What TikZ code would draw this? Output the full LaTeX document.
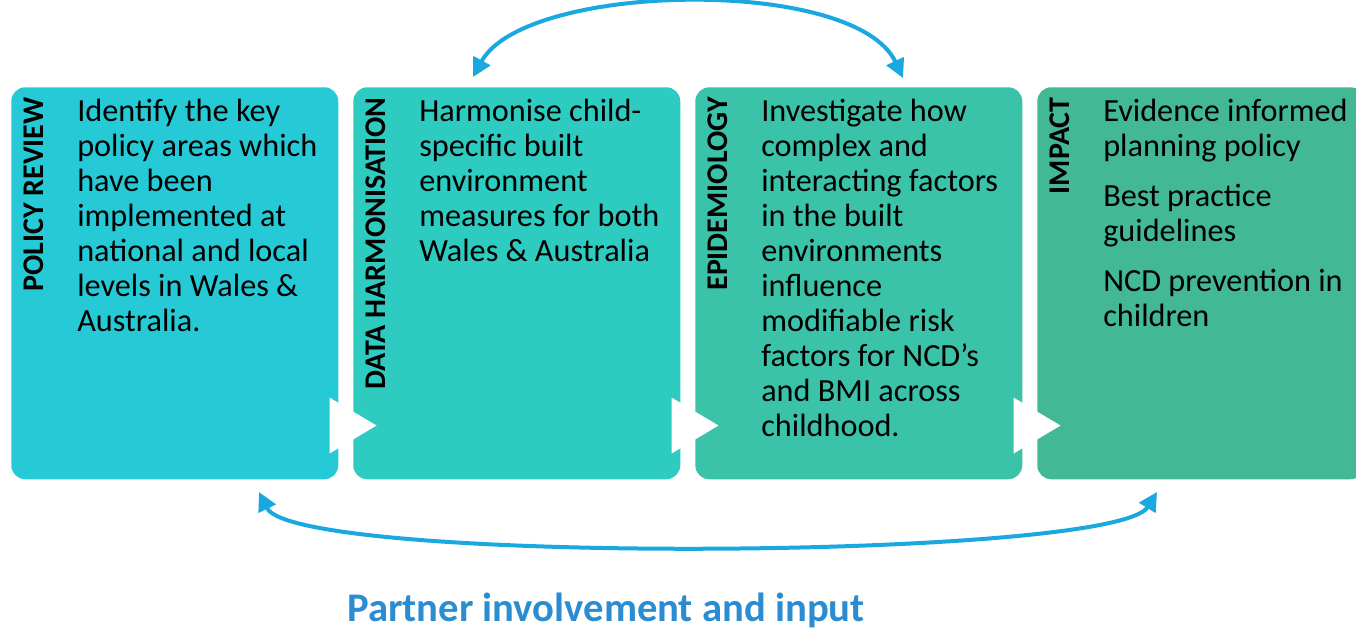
\documentclass[tikz,border=0pt]{standalone}
\usepackage{fontspec}
\setmainfont{Carlito}
\usepackage{xcolor}
\usetikzlibrary{arrows.meta}
\usetikzlibrary{positioning}
\usetikzlibrary{calc}
\definecolor{polcol}{HTML}{26CAD6}
\definecolor{datcol}{HTML}{2ECBC0}
\definecolor{epicol}{HTML}{3AC3A8}
\definecolor{impcol}{HTML}{42B894}
\definecolor{arrowblue}{HTML}{1AA8E0}
\definecolor{titleblue}{HTML}{2B8CD2}

\begin{document}
\begin{tikzpicture}[x=0.75pt,y=-0.75pt,
  box/.style={rounded corners=10.5pt,minimum width=245.25pt,minimum height=294pt,inner sep=0pt,anchor=north west},
  tag/.style={rotate=90,anchor=east,inner sep=0pt,font=\fontsize{22.5}{26}\selectfont\bfseries},
  body/.style={anchor=north west,align=left,inner sep=0pt,font=\fontsize{24.2}{26.25}\selectfont},
  link/.style={{Triangle[length=14pt,width=14pt]}-{Triangle[length=14pt,width=14pt]},line width=3pt,draw=arrowblue}]
  \useasboundingbox (0,0) rectangle (1356,632);
  \clip (0,0) rectangle (1356,632);

  % the four stages
  \node[box,fill=polcol] (pol) at (11,87) {};
  \node[box,fill=datcol] (dat) at (353,87) {};
  \node[box,fill=epicol] (epi) at (695,87) {};
  \node[box,fill=impcol] (imp) at (1037,87) {};

  \node[tag] (poltag) at ($(pol.north west)+(22.5,10)$) {POLICY REVIEW};
  \node[tag] (dattag) at ($(dat.north west)+(22.5,10)$) {DATA HARMONISATION};
  \node[tag] (epitag) at ($(epi.north west)+(22.5,10)$) {EPIDEMIOLOGY};
  \node[tag] (imptag) at ($(imp.north west)+(22.5,10)$) {IMPACT};

  \node[body] (poltext) at ($(pol.north west)+(66,12)$) {Identify the key\\policy areas which\\have been\\implemented at\\national and local\\levels in Wales \&\\Australia.};
  \node[body] (dattext) at ($(dat.north west)+(66,12)$) {Harmonise child-\\specific built\\environment\\measures for both\\Wales \& Australia};
  \node[body] (epitext) at ($(epi.north west)+(66,12)$) {Investigate how\\complex and\\interacting factors\\in the built\\environments\\influence\\modifiable risk\\factors for NCD’s\\and BMI across\\childhood.};
  \node[body] (imptext) at ($(imp.north west)+(66,12)$) {Evidence informed\\planning policy\\[11pt]Best practice\\guidelines\\[11pt]NCD prevention in\\children};

  % white play marks between the stages
  \foreach \b in {pol,dat,epi}{
    \fill[white] ($(\b.south east)+(-9,-82)$) -- ($(\b.south east)+(38,-54)$) -- ($(\b.south east)+(-9,-26)$) -- cycle;
  }

  % feedback arrows
  \coordinate (topa) at (473,77);
  \coordinate (topb) at (903,78);
  \coordinate (bota) at (259,492);
  \coordinate (botb) at (1157,492);
  \draw[link] (topa) .. controls (525,-18) and (855,-24) .. (topb);
  \draw[link] (bota) .. controls (295,565) and (1115,560) .. (botb);

  \node[anchor=base,inner sep=0pt,text=titleblue,font=\fontsize{30.5}{34}\selectfont\bfseries] (partner) at (606,621) {Partner involvement and input};

\end{tikzpicture}
\end{document}
